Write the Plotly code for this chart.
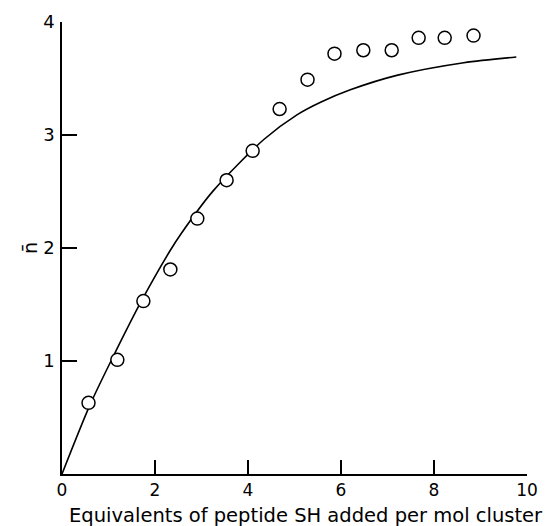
import plotly.graph_objects as go

# Data points (open circles)
pts_x = [0.57, 1.19, 1.75, 2.33, 2.91, 3.54, 4.10, 4.68, 5.28, 5.86, 6.48, 7.09, 7.67, 8.23, 8.85]
pts_y = [0.63, 1.01, 1.53, 1.81, 2.26, 2.60, 2.86, 3.23, 3.49, 3.72, 3.75, 3.75, 3.86, 3.86, 3.88]

# Fitted curve
curve_x = [0, 0.6, 1.15, 1.72, 2.33, 2.55, 3.26, 4.34, 5.06, 5.56, 6.2, 7.22, 8.64, 9.77]
curve_y = [0, 0.61, 1.08, 1.54, 1.98, 2.12, 2.51, 2.96, 3.18, 3.29, 3.40, 3.53, 3.64, 3.69]

x_ticks = [0, 2, 4, 6, 8, 10]
y_ticks = [1, 2, 3, 4]

FONT = "DejaVu Sans"

fig = go.Figure()
fig.add_trace(go.Scatter(x=curve_x, y=curve_y, mode="lines",
                         line=dict(color="black", width=1.6, shape="spline", smoothing=0.8),
                         hoverinfo="skip", showlegend=False))
fig.add_trace(go.Scatter(x=pts_x, y=pts_y, mode="markers",
                         marker=dict(symbol="circle", size=13, color="white",
                                     line=dict(color="black", width=1.5)),
                         showlegend=False))

fig.update_layout(
    width=558, height=526,
    margin=dict(l=61.5, r=31, t=22, b=52),
    paper_bgcolor="white", plot_bgcolor="white",
    font=dict(family=FONT, size=16, color="black"),
    xaxis=dict(range=[0, 10], tickvals=x_ticks, ticktext=[str(v) for v in x_ticks],
               ticks="inside", ticklen=14, tickwidth=1.5, tickcolor="black",
               showline=True, linecolor="black", linewidth=1.5,
               showgrid=False, zeroline=False, ticklabelstandoff=0,
               tickfont=dict(size=17)),
    yaxis=dict(range=[0, 4], tickvals=y_ticks, ticktext=[str(v) for v in y_ticks],
               ticks="inside", ticklen=15, tickwidth=1.5, tickcolor="black",
               showline=True, linecolor="black", linewidth=1.5,
               showgrid=False, zeroline=False, ticklabelstandoff=2,
               tickfont=dict(size=18)),
)

# y-axis title (n-bar), rotated as in the reference
fig.add_annotation(text="n\u0304", xref="paper", yref="y", x=0, y=2,
                   xshift=-32, showarrow=False, textangle=-90,
                   xanchor="center", yanchor="middle",
                   font=dict(family=FONT, size=19, color="black"))

fig.add_annotation(text="Equivalents of peptide SH added per mol cluster",
                   xref="paper", yref="paper", x=(306 - 61.5) / 465.5, y=0,
                   yshift=-41, showarrow=False, xanchor="center", yanchor="middle",
                   font=dict(family=FONT, size=19.5, color="black"))

fig.write_html("out.html")
